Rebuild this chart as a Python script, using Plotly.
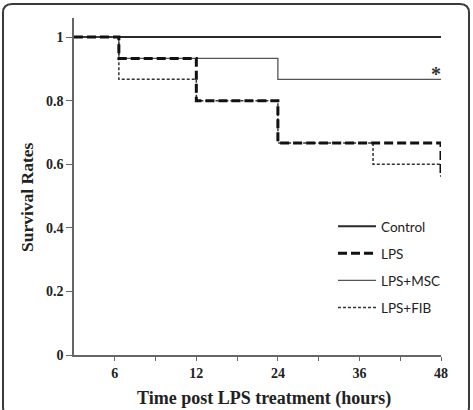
import numpy as np
import plotly.graph_objects as go

# ---- data ----
tick_hours = [6, 12, 24, 36, 48]
tick_labels = ["6", "12", "24", "36", "48"]
series_names = ["Control", "LPS", "LPS+MSC", "LPS+FIB"]

control_t = [0, 48]
control_s = [1.0, 1.0]

lps_t = [0, 6.3, 12, 24, 48, 48]
lps_s = [1.0, 0.933, 0.8, 0.667, 0.667, 0.56]

msc_t = [0, 6.3, 24, 48]
msc_s = [1.0, 0.933, 0.867, 0.867]

fib_t = [0, 6.3, 12, 24, 38, 48, 48]
fib_s = [1.0, 0.867, 0.8, 0.667, 0.6, 0.6, 0.56]

y_ticks = [0, 0.2, 0.4, 0.6, 0.8, 1.0]
y_ticklabels = ["0", "0.2", "0.4", "0.6", "0.8", "1"]

# evenly spaced categorical-like time axis
axis_hours = [0] + tick_hours
axis_pos = [0, 0.5, 1.5, 2.5, 3.5, 4.5]


def pos(h):
    return list(np.interp(h, axis_hours, axis_pos))


W, H = 473, 410
L, R, T, B = 74, 32, 18, 55
pw, ph = W - L - R, H - T - B

fig = go.Figure()
styles = {
    "Control": dict(color="#2a2a2a", width=2),
    "LPS": dict(color="#111111", width=3, dash="9px,4px"),
    "LPS+MSC": dict(color="#555555", width=1.3),
    "LPS+FIB": dict(color="#333333", width=1.5, dash="3px,2px"),
}
data = {
    "Control": (control_t, control_s),
    "LPS": (lps_t, lps_s),
    "LPS+MSC": (msc_t, msc_s),
    "LPS+FIB": (fib_t, fib_s),
}
ranks = {"Control": 1, "LPS": 2, "LPS+MSC": 3, "LPS+FIB": 4}
draw_order = ["Control", "LPS+MSC", "LPS+FIB", "LPS"]
for name in draw_order:
    t, s = data[name]
    fig.add_trace(go.Scatter(
        x=pos(t), y=s, mode="lines", name=name, line=styles[name],
        line_shape="hv", legendrank=ranks[name], legendgroup=name,
    ))

all_tickvals = [0.5, 1, 1.5, 2, 2.5, 3, 3.5, 4, 4.5]
all_ticktext = []
for v in all_tickvals:
    if v in axis_pos[1:]:
        all_ticktext.append(tick_labels[axis_pos[1:].index(v)])
    else:
        all_ticktext.append("")

tickfont = dict(family="Liberation Serif", size=14, color="#222222")
fig.update_xaxes(
    range=[0, 4.5], showgrid=False, zeroline=False, showline=True,
    linecolor="#666666", linewidth=1.5, ticks="outside", ticklen=4,
    tickcolor="#666666", tickwidth=1.2, tickvals=all_tickvals,
    ticktext=[f"<b>{t}</b>" if t else "" for t in all_ticktext],
    tickfont=tickfont, ticklabelstandoff=0,
)
fig.update_yaxes(
    range=[0, 1.06], showgrid=False, zeroline=False, showline=True,
    linecolor="#666666", linewidth=1.5, ticks="outside", ticklen=6,
    tickcolor="#666666", tickwidth=1.2, tickvals=y_ticks,
    ticktext=[f"<b>{t}</b>" for t in y_ticklabels], tickfont=tickfont,
)


def px2paper(X, Y):
    return (X - L) / pw, (H - B - Y) / ph


# rounded frame around the figure
x0, y0 = px2paper(3, 4)
x1, y1 = px2paper(469, 416)
rx, ry = 9 / pw, 9 / ph
path = (f"M{x0+rx},{y0} L{x1-rx},{y0} Q{x1},{y0} {x1},{y0-ry} "
        f"L{x1},{y1+ry} Q{x1},{y1} {x1-rx},{y1} L{x0+rx},{y1} "
        f"Q{x0},{y1} {x0},{y1+ry} L{x0},{y0-ry} Q{x0},{y0} {x0+rx},{y0} Z")
fig.add_shape(type="path", path=path, xref="paper", yref="paper",
              line=dict(color="#3a3a3a", width=2), layer="above")

ax, ay = px2paper(264, 398)
fig.add_annotation(text="<b>Time post LPS treatment (hours)</b>", x=ax, y=ay,
                   xref="paper", yref="paper", showarrow=False,
                   xanchor="center", yanchor="middle",
                   font=dict(family="Liberation Serif", size=18, color="#222222"))
tx, ty = px2paper(27, 197)
fig.add_annotation(text="<b>Survival Rates</b>", x=tx, y=ty, textangle=-90,
                   xref="paper", yref="paper", showarrow=False,
                   xanchor="center", yanchor="middle",
                   font=dict(family="Liberation Serif", size=17.5, color="#222222"))
fig.add_annotation(text="<b>*</b>", x=4.44, y=0.885, showarrow=False,
                   xanchor="center", yanchor="middle",
                   font=dict(family="Liberation Serif", size=20, color="#333333"))

lx, ly = px2paper(333, 211)
fig.update_layout(
    width=W, height=H, margin=dict(l=L, r=R, t=T, b=B),
    paper_bgcolor="white", plot_bgcolor="white",
    showlegend=True,
    legend=dict(x=lx, y=ly, xanchor="left", yanchor="top",
                bgcolor="rgba(0,0,0,0)", tracegroupgap=6.5, itemwidth=38,
                font=dict(family="Lato", size=13.5, color="#222222")),
)

fig.write_html("out.html")
